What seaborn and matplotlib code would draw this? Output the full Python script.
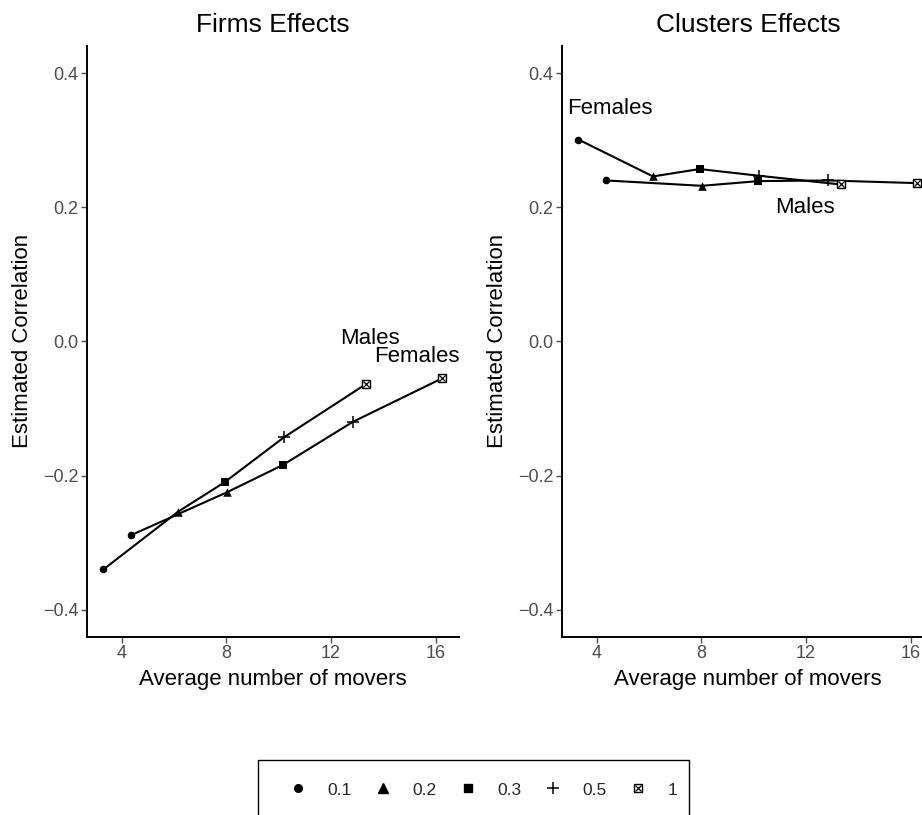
import matplotlib
matplotlib.use("Agg")
import matplotlib.pyplot as plt
import seaborn as sns
import pandas as pd
from matplotlib.lines import Line2D
from matplotlib.patches import Rectangle

# sampling levels (marker shapes)
levels = [0.1, 0.2, 0.3, 0.5, 1]
level_labels = ["0.1", "0.2", "0.3", "0.5", "1"]

# average number of movers, per sex
movers_females = [3.30, 6.15, 7.93, 10.20, 13.32]
movers_males = [4.35, 8.02, 10.17, 12.83, 16.25]

# estimated correlations
firms_females = [-0.340, -0.254, -0.210, -0.143, -0.064]
firms_males = [-0.289, -0.225, -0.184, -0.120, -0.055]
clusters_females = [0.301, 0.246, 0.257, 0.247, 0.234]
clusters_males = [0.240, 0.232, 0.239, 0.240, 0.236]

x_ticks = [4, 8, 12, 16]
y_ticks = [-0.4, -0.2, 0.0, 0.2, 0.4]


def make_df(fem, mal):
    return pd.DataFrame({
        "movers": movers_females + movers_males,
        "corr": fem + mal,
        "sex": ["Females"] * 5 + ["Males"] * 5,
        "level": levels + levels,
    })


panels = [
    ("Firms Effects", make_df(firms_females, firms_males),
     [("Males", 13.49, 0.005), ("Females", 15.28, -0.022)]),
    ("Clusters Effects", make_df(clusters_females, clusters_males),
     [("Females", 4.50, 0.347), ("Males", 11.97, 0.200)]),
]

sns.set_theme(style="ticks")
plt.rcParams["font.family"] = ["Liberation Sans", "DejaVu Sans"]

fig = plt.figure(figsize=(9.22, 8.15), dpi=100)
ax_pos = [[0.094, 0.219, 0.4038, 0.725], [0.6092, 0.219, 0.4038, 0.725]]

marker_kw = {
    0.1: dict(marker="o", s=30, linewidth=0),
    0.2: dict(marker="^", s=38, linewidth=0),
    0.3: dict(marker="s", s=34, linewidth=0),
    0.5: dict(marker="+", s=70, linewidth=1.1),
}

for pos, (title, df, labels) in zip(ax_pos, panels):
    ax = fig.add_axes(pos)
    sns.lineplot(data=df, x="movers", y="corr", units="sex", estimator=None,
                 sort=False, color="black", linewidth=1.5, ax=ax)
    for lev in levels:
        sub = df[df["level"] == lev]
        if lev in marker_kw:
            sns.scatterplot(data=sub, x="movers", y="corr", color="black",
                            zorder=3, ax=ax, **marker_kw[lev])
        else:
            # boxed cross
            sns.scatterplot(data=sub, x="movers", y="corr", marker="s", s=38,
                            color="white", edgecolor="black", linewidth=1.0,
                            zorder=3, ax=ax)
            sns.scatterplot(data=sub, x="movers", y="corr", marker="x", s=20,
                            color="black", linewidth=0.9, zorder=4, ax=ax)
    for txt, tx, ty in labels:
        ax.text(tx, ty, txt, ha="center", va="center", fontsize=16, color="black")

    ax.set_xlim(2.66, 16.89)
    ax.set_ylim(-0.44, 0.441)
    ax.set_xticks(x_ticks)
    ax.set_yticks(y_ticks)
    ax.set_yticklabels(["\u22120.4", "\u22120.2", "0.0", "0.2", "0.4"])
    ax.tick_params(labelsize=13, colors="#4D4D4D", length=4, width=1,
                   labelcolor="#4D4D4D", pad=2)
    for side in ["top", "right"]:
        ax.spines[side].set_visible(False)
    for side in ["left", "bottom"]:
        ax.spines[side].set_color("black")
        ax.spines[side].set_linewidth(1.4)
    ax.set_xlabel("Average number of movers", fontsize=16, color="black", labelpad=5)
    ax.set_ylabel("Estimated Correlation", fontsize=16, color="black", labelpad=7)
    ax.set_title(title, fontsize=19, color="black", pad=10)

# legend of sampling levels
handles = [
    Line2D([], [], marker="o", linestyle="none", color="black", markersize=5.5),
    Line2D([], [], marker="^", linestyle="none", color="black", markersize=6.5),
    Line2D([], [], marker="s", linestyle="none", color="black", markersize=6),
    Line2D([], [], marker="+", linestyle="none", color="black", markersize=9,
           markeredgewidth=1.1),
    (Line2D([], [], marker="s", linestyle="none", markerfacecolor="white",
            markeredgecolor="black", markersize=6, markeredgewidth=1.0),
     Line2D([], [], marker="x", linestyle="none", color="black", markersize=4,
            markeredgewidth=0.9)),
]
fig.legend(handles, level_labels, ncol=5, loc="center",
           bbox_to_anchor=(483.5 / 922, 1 - 790 / 815), fontsize=12.5,
           frameon=False, handlelength=1.0, handletextpad=1.2,
           columnspacing=1.3, borderpad=1.4)
fig.patches.append(Rectangle((258 / 922, 1 - 822 / 815), 431 / 922, 62 / 815,
                             transform=fig.transFigure, fill=False,
                             edgecolor="black", linewidth=1.0))

fig.savefig("out.png", dpi=100)
